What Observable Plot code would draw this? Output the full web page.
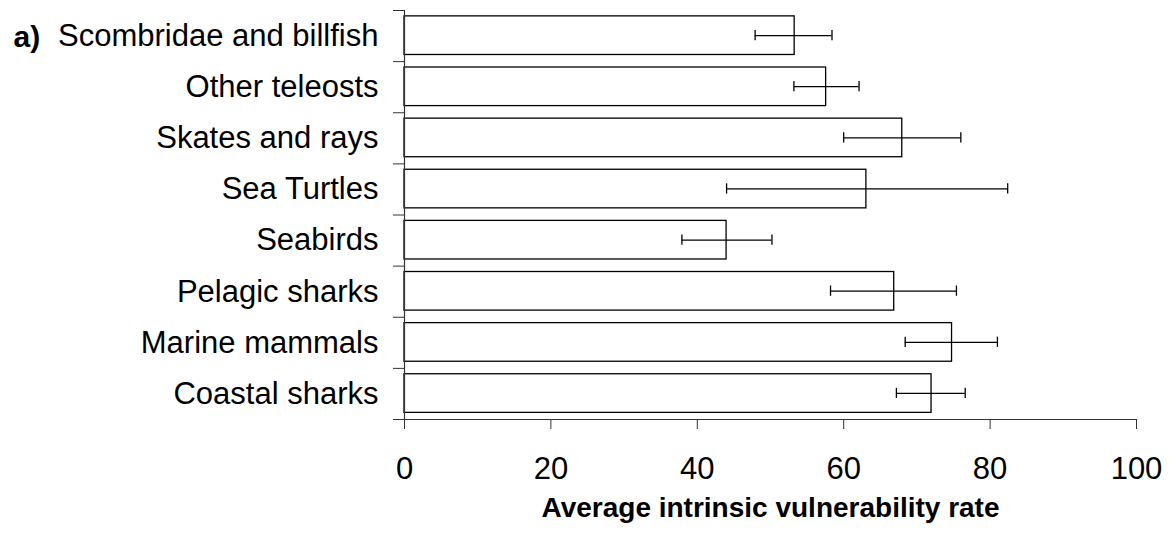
<!DOCTYPE html>
<html>
<head>
<meta charset="utf-8">
<script src="https://cdn.jsdelivr.net/npm/d3@7"></script>
<script src="https://cdn.jsdelivr.net/npm/@observablehq/plot@0.6"></script>
<style>
  html, body { margin: 0; padding: 0; background: white; }
</style>
</head>
<body>
<div id="chart"></div>
<script>
const categories = ["Scombridae and billfish", "Other teleosts", "Skates and rays", "Sea Turtles", "Seabirds", "Pelagic sharks", "Marine mammals", "Coastal sharks"];
const means  = [53.3, 57.6, 68.0, 63.1, 44.0, 66.9, 74.8, 72.0];
const lowers = [47.9, 53.2, 60.0, 44.0, 37.9, 58.2, 68.4, 67.2];
const uppers = [58.4, 62.1, 76.0, 82.4, 50.2, 75.4, 81.0, 76.6];
const xTicks = [0, 20, 40, 60, 80, 100];
const xLabel = "Average intrinsic vulnerability rate";
const panelLabel = "a)";

const data = categories.map((c, i) => ({category: c, i, mean: means[i], lo: lowers[i], hi: uppers[i]}));

const plot = Plot.plot({
  width: 1176,
  height: 534,
  marginLeft: 404,
  marginRight: 40,
  marginTop: 10,
  marginBottom: 115,
  style: {fontFamily: "'Liberation Sans', Arial, sans-serif", fontSize: "31px", color: "#000", background: "white"},
  x: {domain: [0, 100]},
  y: {domain: [0, categories.length], reverse: true},
  marks: [
    Plot.rectX(data, {x1: d => 0, x2: "mean", y1: d => d.i + 0.115, y2: d => d.i + 0.87, fill: "white", stroke: "black", strokeWidth: 1.3}),
    Plot.ruleY(data, {x1: "lo", x2: "hi", y: d => d.i + 0.49, stroke: "black", strokeWidth: 1.3}),
    Plot.ruleX(data, {x: "lo", y1: d => d.i + 0.39, y2: d => d.i + 0.59, stroke: "black", strokeWidth: 1.3}),
    Plot.ruleX(data, {x: "hi", y1: d => d.i + 0.39, y2: d => d.i + 0.59, stroke: "black", strokeWidth: 1.3}),
    Plot.ruleX([0], {stroke: "#333", strokeWidth: 1.2}),
    Plot.ruleY([categories.length], {stroke: "#333", strokeWidth: 1.2}),
    Plot.axisX({ticks: xTicks, tickSize: 10, tickPadding: 27, fontSize: 31, label: null, stroke: "#333"}),
    Plot.axisY({ticks: d3.range(categories.length + 1), tickSize: 11, tickFormat: () => "", label: null, stroke: "#333"}),
    Plot.axisY({ticks: categories.map((c, i) => i + 0.5), tickSize: 0, tickPadding: 26, tickFormat: t => categories[Math.floor(t)], fontSize: 31, label: null}),
    Plot.text([xLabel], {frameAnchor: "bottom", lineAnchor: "middle", dy: 89, fontWeight: "bold", fontSize: 28, fill: "black"}),
    Plot.text([panelLabel], {frameAnchor: "top-left", lineAnchor: "middle", dx: -391, dy: 27, textAnchor: "start", fontWeight: "bold", fontSize: 30, fill: "black"})
  ]
});
document.getElementById("chart").appendChild(plot);
</script>
</body>
</html>
